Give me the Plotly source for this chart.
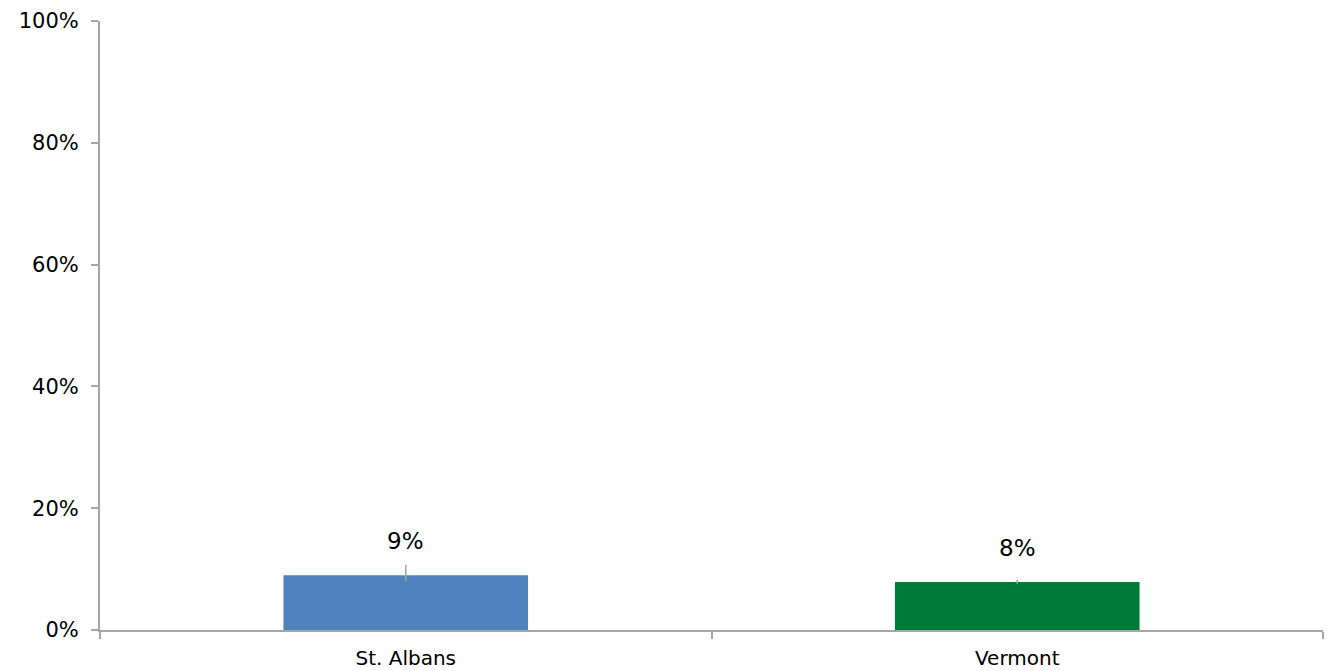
import plotly.graph_objects as go

# Share of residents, with margin of error
places = ["St. Albans", "Vermont"]
shares = [0.09, 0.079]
err_plus = [0.017, 0.003]
err_minus = [0.010, 0.003]
labels = ["9%", "8%"]
colors = ["#4f81bd", "#007a37"]

y_ticks = [0, 0.2, 0.4, 0.6, 0.8, 1.0]
y_tick_text = ["0%", "20%", "40%", "60%", "80%", "100%"]

font_family = "'DejaVu Sans', sans-serif"
axis_grey = "#a6a6a6"

fig = go.Figure()
fig.add_trace(go.Bar(
    x=places,
    y=shares,
    width=0.4,
    marker=dict(color=colors, line=dict(width=0)),
    error_y=dict(type="data", symmetric=False, array=err_plus, arrayminus=err_minus,
                 color="#a6a6a6", thickness=1.5, width=0),
    hoverinfo="skip",
))

for place, share, lab in zip(places, shares, labels):
    fig.add_annotation(x=place, y=share, text=lab, showarrow=False,
                       yshift=34, font=dict(size=23, color="#000000", family=font_family))

fig.update_layout(
    width=1328, height=671,
    margin=dict(l=100, r=5, t=21, b=41),
    plot_bgcolor="#ffffff", paper_bgcolor="#ffffff",
    showlegend=False,
    font=dict(family=font_family, size=21, color="#000000"),
    xaxis=dict(
        showline=True, linecolor=axis_grey, linewidth=2,
        ticks="outside", ticklen=7, tickcolor=axis_grey, tickwidth=2,
        tickson="boundaries", showgrid=False, zeroline=False,
        tickfont=dict(size=20), ticklabelstandoff=9, automargin=False,
    ),
    yaxis=dict(
        range=[0, 1], tickvals=y_ticks, ticktext=y_tick_text,
        showline=True, linecolor=axis_grey, linewidth=2,
        ticks="outside", ticklen=7, tickcolor=axis_grey, tickwidth=2,
        showgrid=False, zeroline=False,
        tickfont=dict(size=21), ticklabelstandoff=8, automargin=False,
    ),
)

fig.write_html("out.html")
